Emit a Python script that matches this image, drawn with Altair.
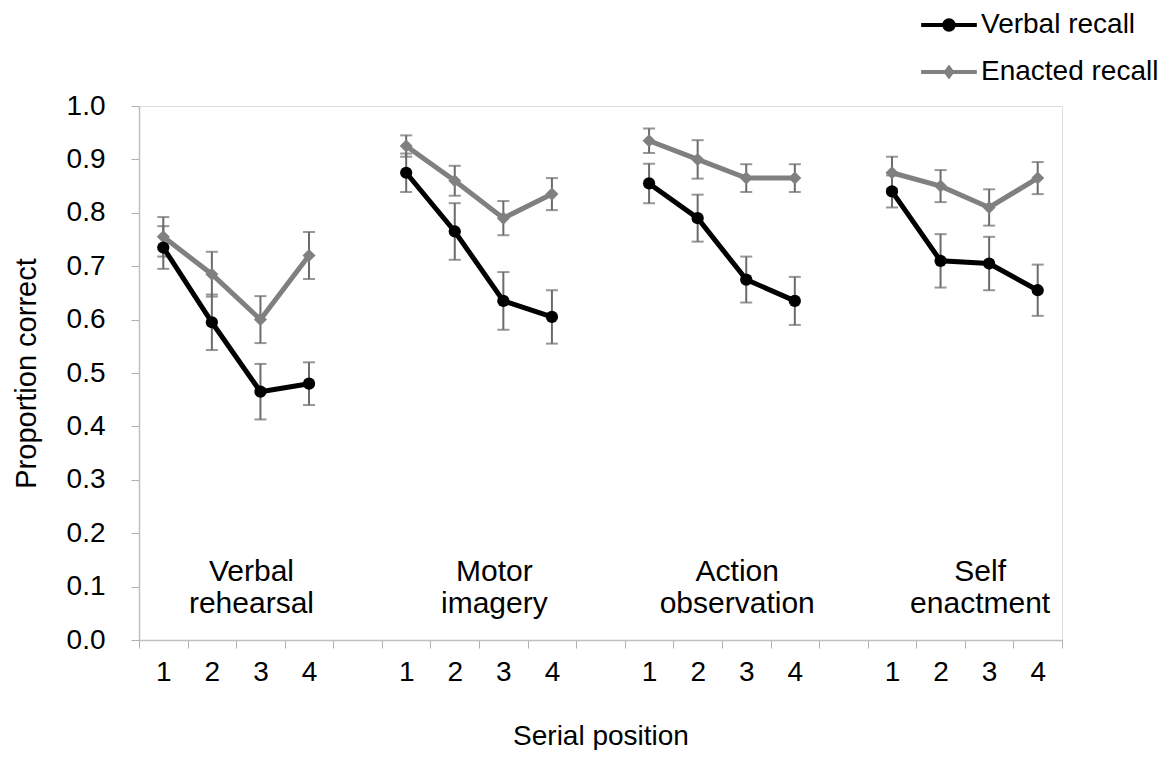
import altair as alt
import pandas as pd

groups = ["Verbal rehearsal", "Motor imagery", "Action observation", "Self enactment"]
group_text = ["Verbal\nrehearsal", "Motor\nimagery", "Action\nobservation", "Self\nenactment"]
positions = [1, 2, 3, 4]
series_names = ["Verbal recall", "Enacted recall"]

verbal_mean = [0.735, 0.595, 0.465, 0.480,
               0.875, 0.765, 0.635, 0.605,
               0.855, 0.790, 0.675, 0.635,
               0.840, 0.710, 0.705, 0.655]
verbal_err = [0.040, 0.052, 0.052, 0.040,
              0.036, 0.053, 0.054, 0.050,
              0.037, 0.044, 0.043, 0.045,
              0.030, 0.050, 0.050, 0.048]
enacted_mean = [0.755, 0.685, 0.600, 0.720,
                0.925, 0.860, 0.790, 0.835,
                0.935, 0.900, 0.865, 0.865,
                0.875, 0.850, 0.810, 0.865]
enacted_err = [0.037, 0.042, 0.044, 0.044,
               0.020, 0.028, 0.032, 0.030,
               0.023, 0.036, 0.026, 0.026,
               0.030, 0.030, 0.034, 0.030]

label_slot_pos = 3      # group label centred near serial position 3
label_y = 0.128

colors = {"Verbal recall": "#000000", "Enacted recall": "#808080"}
shapes = {"Verbal recall": "circle", "Enacted recall": "diamond"}

rows = []
for s, means, errs in [("Verbal recall", verbal_mean, verbal_err),
                       ("Enacted recall", enacted_mean, enacted_err)]:
    for gi, g in enumerate(groups):
        for pi, p in enumerate(positions):
            k = gi * 4 + pi
            rows.append({"series": s, "group": g, "pos": p, "slot": gi * 5 + pi,
                         "mean": means[k], "lo": means[k] - errs[k], "hi": means[k] + errs[k],
                         "col": colors[s], "shp": shapes[s]})
df = pd.DataFrame(rows)

lab_df = pd.DataFrame({"slot": [gi * 5 + label_slot_pos - 1 for gi in range(4)],
                       "y": [label_y] * 4, "text": group_text})

FONT = "Liberation Sans"
FS = 28
slot_domain = list(range(19))

x_enc = alt.X("slot:O", scale=alt.Scale(domain=slot_domain, paddingInner=0, paddingOuter=0),
              axis=alt.Axis(title="Serial position",
                            labelExpr="isNumber(datum.value) ? (datum.value % 5 == 4 ? '' : '' + ((datum.value % 5) + 1)) : ''",
                            labelAngle=0, tickBand="extent", tickSize=8, tickColor="#b0b0b0",
                            domainColor="#bfbfbf", domainWidth=1.5, labelPadding=10,
                            labelFontSize=FS, titleFontSize=FS, titlePadding=36,
                            labelFont=FONT, titleFont=FONT, titleFontWeight="normal",
                            labelColor="#000000", titleColor="#000000", grid=False))
y_scale = alt.Scale(domain=[0, 1], nice=False, zero=True)
y_axis = alt.Axis(title="Proportion correct", values=[i / 10 for i in range(11)], format=".1f",
                  tickSize=8, tickColor="#b0b0b0", domainColor="#bfbfbf", domainWidth=1.5,
                  labelPadding=26, labelFontSize=FS, titleFontSize=29, titlePadding=25,
                  labelFont=FONT, titleFont=FONT, titleFontWeight="normal",
                  labelColor="#000000", titleColor="#000000", grid=False)

base = alt.Chart(df)

err_rule = base.mark_rule(color="#6b6b6b", strokeWidth=2).encode(
    x=x_enc, y=alt.Y("lo:Q", scale=y_scale, axis=y_axis), y2="hi:Q")
cap_hi = base.mark_tick(color="#6b6b6b", thickness=2, size=12).encode(
    x="slot:O", y="hi:Q")
cap_lo = base.mark_tick(color="#6b6b6b", thickness=2, size=12).encode(
    x="slot:O", y="lo:Q")

layers = [err_rule, cap_hi, cap_lo]
for s in ["Enacted recall", "Verbal recall"]:
    sub = alt.Chart(df[df.series == s])
    layers.append(sub.mark_line(strokeWidth=5).encode(
        x="slot:O", y="mean:Q", detail="group:N",
        color=alt.Color("col:N", scale=None)))
    layers.append(sub.mark_point(filled=True, opacity=1, size=150 if s == "Verbal recall" else 170).encode(
        x="slot:O", y="mean:Q",
        color=alt.Color("col:N", scale=None),
        shape=alt.Shape("shp:N", scale=None)))

# legend carrier layer (invisible marks)
path_v = ("M-1,-0.075L1,-0.075L1,0.075L-1,0.075Z "
          "M-0.24,0A0.24,0.24 0 1,1 0.24,0A0.24,0.24 0 1,1 -0.24,0Z")
path_e = ("M-1,-0.075L1,-0.075L1,0.075L-1,0.075Z "
          "M-0.2,0L0,-0.27L0.2,0L0,0.27Z")
leg = alt.Legend(title=None, orient="none", legendX=782, legendY=-109,
                 labelFont=FONT, labelFontSize=FS, labelColor="#000000", labelLimit=400,
                 symbolSize=3100, symbolOpacity=1, symbolStrokeWidth=0,
                 rowPadding=5, labelOffset=4)
legend_layer = base.mark_point(filled=True, opacity=0).encode(
    x="slot:O", y="mean:Q",
    color=alt.Color("series:N", scale=alt.Scale(domain=series_names, range=["#000000", "#808080"]), legend=leg),
    shape=alt.Shape("series:N", scale=alt.Scale(domain=series_names, range=[path_v, path_e]), legend=leg))
layers.append(legend_layer)

labels = alt.Chart(lab_df).mark_text(font=FONT, fontSize=30, lineHeight=32, baseline="middle",
                                     align="center", color="#000000", lineBreak="\n", dx=-9).encode(
    x="slot:O", y="y:Q", text="text:N")
layers.append(labels)

chart = alt.layer(*layers).properties(
    width=923, height=534,
    autosize=alt.AutoSizeParams(type="none"),
    padding={"left": 131, "top": 98, "right": 100, "bottom": 110},
).configure_view(stroke=None).configure(background="white")

chart.save("out.html", embed_options={"renderer": "svg", "actions": False})
